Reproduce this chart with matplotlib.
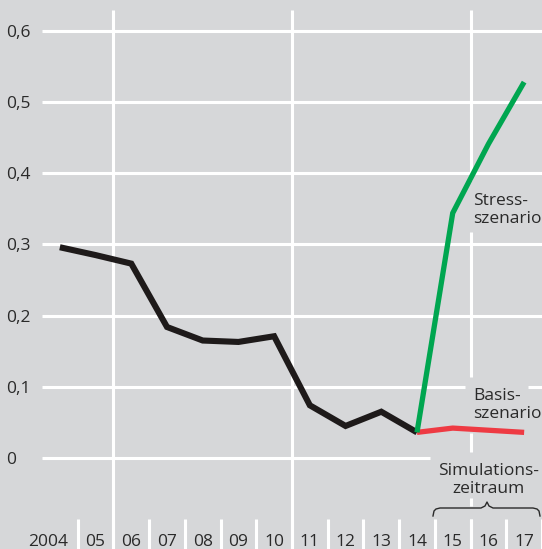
import matplotlib.pyplot as plt
import numpy as np

plt.rcParams['font.family'] = ['Open Sans', 'DejaVu Sans']

# Daten
years = np.arange(2004, 2018)
year_labels = ['2004', '05', '06', '07', '08', '09', '10', '11', '12', '13', '14', '15', '16', '17']

hist_years = [2004, 2005, 2006, 2007, 2008, 2009, 2010, 2011, 2012, 2013, 2014]
hist_vals = [0.296, 0.285, 0.273, 0.184, 0.165, 0.163, 0.171, 0.074, 0.045, 0.065, 0.036]

sim_years = [2014, 2015, 2016, 2017]
stress_vals = [0.036, 0.344, 0.441, 0.528]
basis_vals = [0.036, 0.042, 0.039, 0.036]

yticks = [0, 0.1, 0.2, 0.3, 0.4, 0.5, 0.6]
ytick_labels = ['0', '0,1', '0,2', '0,3', '0,4', '0,5', '0,6']

bg = '#d6d7d9'
txt = '#2a2a2a'
fs = 12.5

W, H = 542, 549
fig = plt.figure(figsize=(W / 100, H / 100), dpi=100, facecolor=bg)
ax = fig.add_axes([42 / W, 0, 500 / W, 1])
ax.set_facecolor(bg)

# Pixelzeile -> Datenwert (0 bei y=458, 0,1 je 71,2 px)
def py(p):
    return (458 - p) / 712.0

def px(p):
    return 2003.5 + (p - 42) / (500 / 14)

ax.set_xlim(2003.5, 2017.5)
ax.set_ylim(py(H), py(0))
for s in ax.spines.values():
    s.set_visible(False)

grid = dict(color='white', lw=2.2, zorder=1, clip_on=False)

# horizontale Gitterlinien
for v in yticks:
    if v == 0:
        ax.hlines(v, 2003.5, px(430), **grid)
    elif v == 0.1:
        ax.hlines(v, 2003.5, px(465), **grid)
        ax.hlines(v, px(528), 2017.5, **grid)
    else:
        ax.hlines(v, 2003.5, 2017.5, **grid)

# vertikale Linien
ax.vlines(2005.5, py(H), py(10), **grid)
ax.vlines(2010.5, py(H), py(10), **grid)
for a, b in [(10, 180), (232, 377), (433, 452), (498, 506), (519, H)]:
    ax.vlines(2015.5, py(b), py(a), **grid)
for x in years + 0.5:
    ax.vlines(x, py(H), py(519), **grid)

# Linien
ax.plot(hist_years, hist_vals, color='#1e1a1a', lw=4.4, solid_joinstyle='miter',
        solid_capstyle='butt', zorder=3)
ax.plot(sim_years, basis_vals, color='#ee3a43', lw=3.8, solid_capstyle='butt', zorder=4)
ax.plot(sim_years, stress_vals, color='#00a650', lw=3.8, solid_joinstyle='miter',
        solid_capstyle='butt', zorder=5)

# Achsenbeschriftung
ax.set_yticks(yticks)
ax.set_yticklabels(ytick_labels, ha='left')
ax.tick_params(axis='y', length=0, pad=25.9, labelsize=fs, labelcolor=txt)
ax.set_xticks([])
for x, lab in zip(years, year_labels):
    if lab == '2004':
        ax.text(px(68), py(546), lab, ha='right', va='baseline', fontsize=fs, color=txt)
    else:
        ax.text(x, py(546), lab, ha='center', va='baseline', fontsize=fs, color=txt)

# Beschriftungen (Grundlinie der letzten Zeile)
ax.text(px(473), py(223), 'Stress-\nszenario', ha='left', va='baseline', fontsize=fs,
        color=txt, linespacing=1.2, zorder=6)
ax.text(px(473), py(418), 'Basis-\nszenario', ha='left', va='baseline', fontsize=fs,
        color=txt, linespacing=1.2, zorder=6)
ax.text(2016, py(493), 'Simulations-\nzeitraum', ha='center', va='baseline', fontsize=fs,
        color=txt, linespacing=1.2, zorder=6)

# Klammer
bx = [px(433), px(434), px(436), px(440), px(481), px(485), px(487), px(489), px(493),
      px(533), px(537), px(539), px(540)]
by = [py(516), py(511), py(509), py(508), py(508), py(506), py(502), py(506), py(508),
      py(508), py(509), py(511), py(516)]
ax.plot(bx, by, color=txt, lw=1.0, zorder=6, clip_on=False)

fig.savefig('out.png', dpi=100, facecolor=bg)
